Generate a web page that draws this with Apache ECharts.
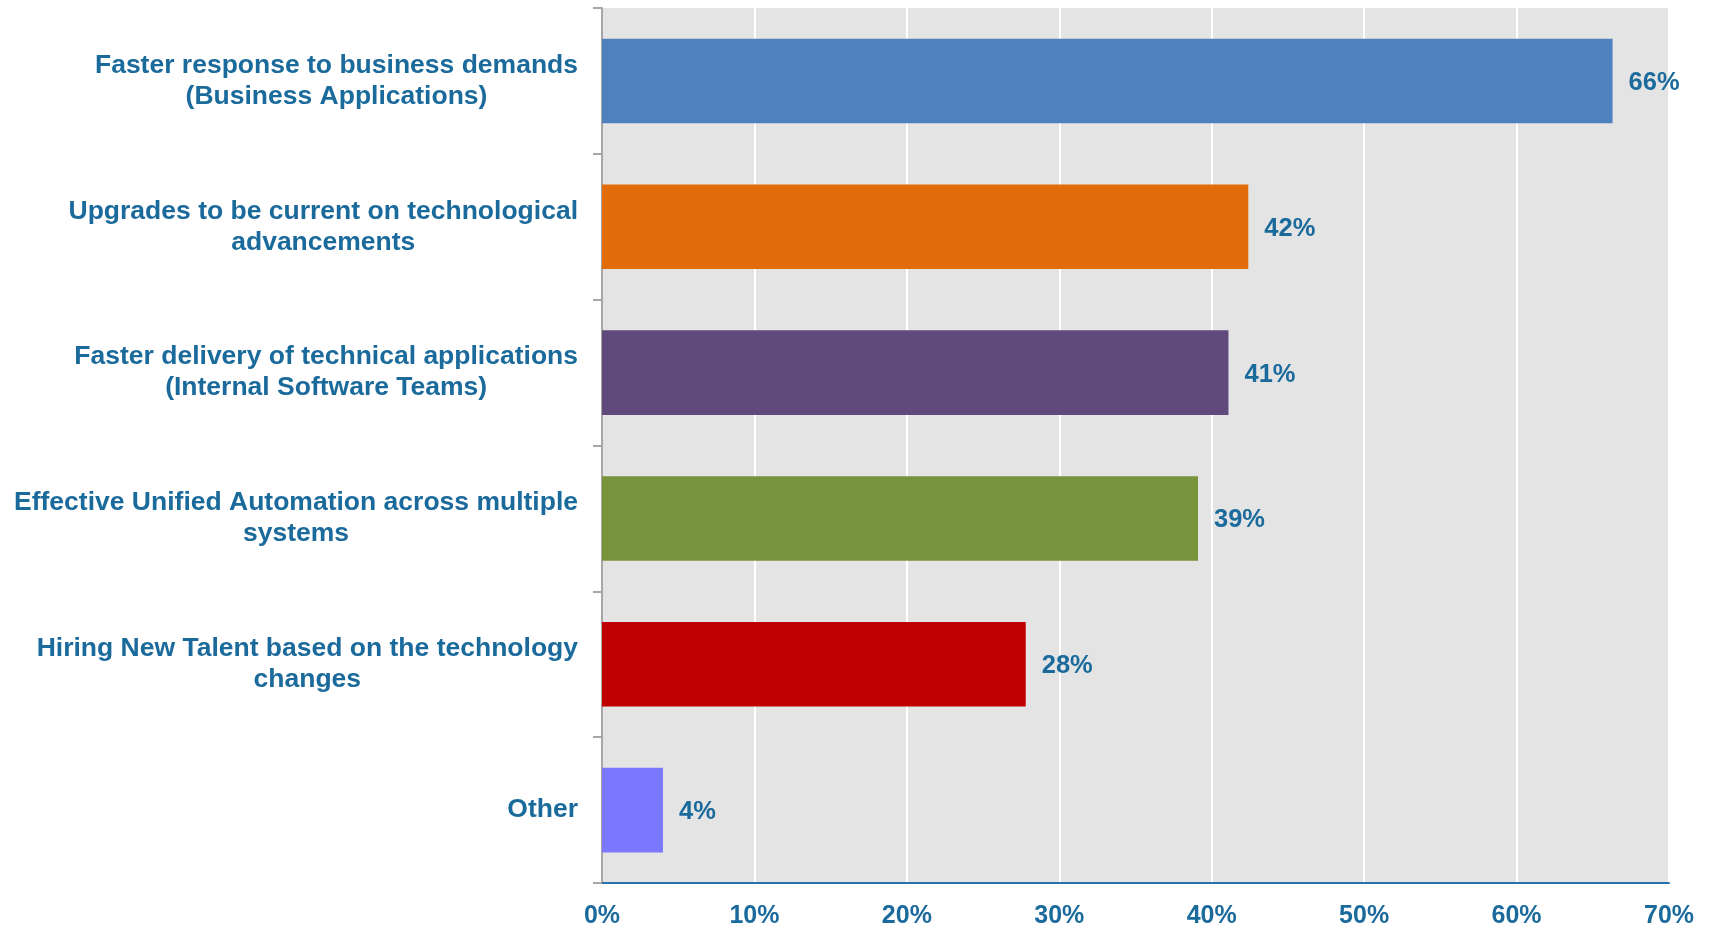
<!DOCTYPE html>
<html>
<head>
<meta charset="utf-8">
<script src="https://cdn.jsdelivr.net/npm/echarts@6/dist/echarts.min.js"></script>
<style>
html,body{margin:0;padding:0;background:#fff;}
#chart{width:1710px;height:930px;}
</style>
</head>
<body>
<div id="chart"></div>
<script>
const categories = [
  ["Faster response to business demands", "(Business Applications)"],
  ["Upgrades to be current on technological", "advancements"],
  ["Faster delivery of technical applications", "(Internal Software Teams)"],
  ["Effective Unified Automation across multiple", "systems"],
  ["Hiring New Talent based on the technology", "changes"],
  ["Other"]
];
const values = [66.3, 42.4, 41.1, 39.1, 27.8, 4.0];
const xTicks = [0, 10, 20, 30, 40, 50, 60, 70];
const barColors = ["#4f81bd", "#e36c0a", "#604a7b", "#77933c", "#c00000", "#7b78ff"];

const textColor = "#1b6a9c";
const font = "'Liberation Sans', Arial, sans-serif";

const chart = echarts.init(document.getElementById('chart'), null, {renderer: 'canvas'});
chart.setOption({
  animation: false,
  grid: {
    left: 602, right: 41, top: 8, bottom: 47,
    show: true, backgroundColor: '#e4e4e4', borderWidth: 0
  },
  xAxis: {
    type: 'value',
    min: xTicks[0], max: xTicks[xTicks.length - 1], interval: 10,
    axisLine: {show: true, lineStyle: {color: '#2a73a8', width: 2}},
    axisTick: {show: false},
    splitLine: {show: true, lineStyle: {color: '#ffffff', width: 2}},
    axisLabel: {
      formatter: v => v + '%',
      color: textColor, fontFamily: font, fontWeight: 'bold', fontSize: 25, margin: 21
    }
  },
  yAxis: {
    type: 'category',
    inverse: true,
    data: categories.map((c, i) => ({value: 'c' + i})),
    axisLine: {show: true, lineStyle: {color: '#a6a6a6', width: 2}},
    axisTick: {show: true, length: 9, lineStyle: {color: '#a6a6a6', width: 2}},
    splitLine: {show: false},
    axisLabel: {
      margin: 24,
      formatter: (v, i) => categories[i].map(l => '{c|' + l + '}').join('\n'),
      rich: {
        c: {align: 'center', color: textColor, fontFamily: font, fontWeight: 'bold', fontSize: 26.5, lineHeight: 31}
      }
    }
  },
  series: [{
    type: 'bar',
    data: values,
    barCategoryGap: '42%',
    itemStyle: {color: p => barColors[p.dataIndex]},
    label: {
      show: true, position: 'right', distance: 16,
      formatter: p => Math.round(p.value) + '%',
      color: textColor, fontFamily: font, fontWeight: 'bold', fontSize: 25.5,
      offset: [0, 2]
    }
  }]
});
</script>
</body>
</html>
